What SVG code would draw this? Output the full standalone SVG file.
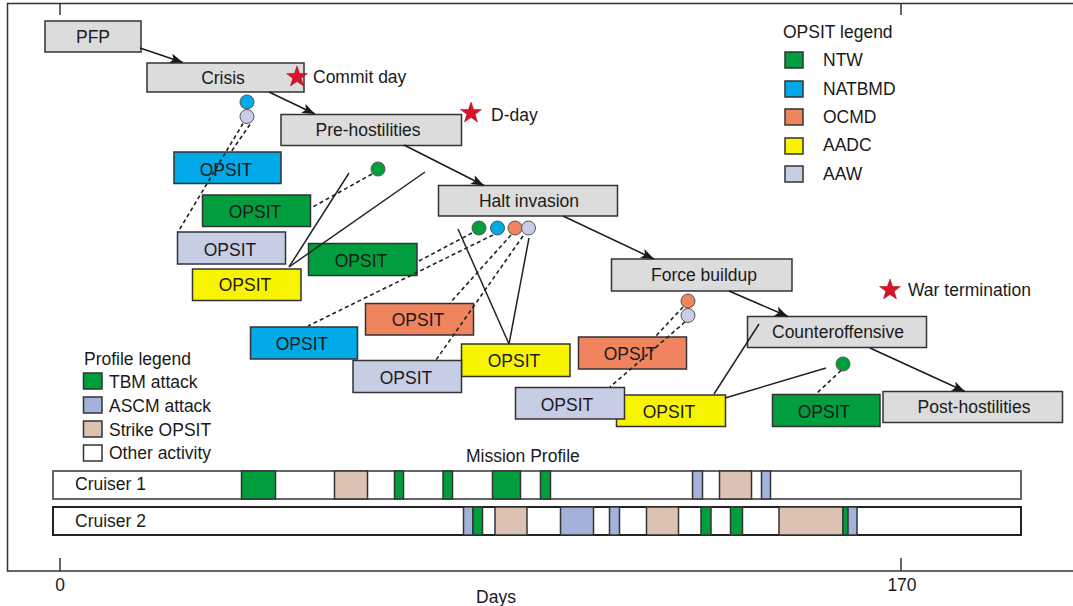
<svg xmlns="http://www.w3.org/2000/svg" width="1073" height="606" viewBox="0 0 1073 606">
<style>
text{font-family:"Liberation Sans",Arial,sans-serif;font-size:17.5px;fill:#1a1a1a}
.c{text-anchor:middle}
.ph{fill:#dcdcdc;stroke:#333;stroke-width:1.5}
.op{stroke:#333;stroke-width:1.5}
.g{fill:#009e3d}.b{fill:#00a9e8}.o{fill:#ef845f}.y{fill:#f8f400}.l{fill:#c8cde6}.pl{fill:#a4b1da}.t{fill:#dcc2b2}.w{fill:#fff}
.dot{stroke:#555;stroke-width:1}
.seg{stroke:#333;stroke-width:1.5}
.arr{stroke:#1a1a1a;stroke-width:1.5;fill:none;marker-end:url(#ah)}
.dash{stroke:#222;stroke-width:1.6;stroke-dasharray:4 3;fill:none}
.sol{stroke:#222;stroke-width:1.5;fill:none}
.star{fill:#d8142a;stroke:#a00;stroke-width:0.5}
</style>
<defs>
<marker id="ah" markerWidth="14" markerHeight="10" refX="13" refY="5" orient="auto" markerUnits="userSpaceOnUse">
<path d="M0,0 L13,5 L0,10 L3,5 z" fill="#1a1a1a"/>
</marker>
<path id="st" d="M0,-11 L2.59,-3.56 L10.46,-3.4 L4.18,1.36 L6.47,8.9 L0,4.4 L-6.47,8.9 L-4.18,1.36 L-10.46,-3.4 L-2.59,-3.56 z"/>
</defs>
<rect width="1073" height="606" fill="#fff"/>
<g id="frame" stroke="#333" stroke-width="1.5" fill="none">
<path d="M1073,3.5 H7.5 V571 H1073"/>
<path d="M60,3.5 V15 M901,3.5 V15 M60,558 V571 M901,558 V571"/>
</g>
<text x="60" y="591" class="c">0</text>
<text x="902" y="591" class="c">170</text>
<text x="496" y="603" class="c">Days</text>

<g id="opsit-legend">
<text x="783" y="38">OPSIT legend</text>
<rect x="785" y="52" width="18" height="16" class="op g"/><text x="823" y="66">NTW</text>
<rect x="785" y="81" width="18" height="16" class="op b"/><text x="823" y="95">NATBMD</text>
<rect x="785" y="109" width="18" height="16" class="op o"/><text x="823" y="123">OCMD</text>
<rect x="785" y="138" width="18" height="16" class="op y"/><text x="823" y="151">AADC</text>
<rect x="785" y="166" width="18" height="16" class="op l"/><text x="823" y="180">AAW</text>
</g>
<g id="profile-legend">
<text x="84" y="365">Profile legend</text>
<rect x="83.5" y="373" width="18.5" height="16" class="op g"/><text x="109" y="388">TBM attack</text>
<rect x="83.5" y="397" width="18.5" height="16" class="op pl"/><text x="109" y="412">ASCM attack</text>
<rect x="83.5" y="421" width="18.5" height="16" class="op t"/><text x="109" y="436">Strike OPSIT</text>
<rect x="83.5" y="445" width="18.5" height="16" class="op w"/><text x="109" y="459">Other activity</text>
</g>

<g id="mission-profile">
<text x="466" y="462">Mission Profile</text>
<g id="cruiser1">
<rect x="53" y="471" width="968" height="28" fill="#fff" stroke="#666" stroke-width="2"/>
<text x="75" y="490">Cruiser 1</text>
<rect x="241.5" y="471" width="34" height="28" class="seg g"/>
<rect x="334.5" y="471" width="33" height="28" class="seg t"/>
<rect x="394.5" y="471" width="9" height="28" class="seg g"/>
<rect x="443" y="471" width="9.5" height="28" class="seg g"/>
<rect x="492.5" y="471" width="28" height="28" class="seg g"/>
<rect x="540.5" y="471" width="10" height="28" class="seg g"/>
<rect x="692.5" y="471" width="10" height="28" class="seg pl"/>
<rect x="719.5" y="471" width="32" height="28" class="seg t"/>
<rect x="761.5" y="471" width="9" height="28" class="seg pl"/>
</g>
<g id="cruiser2">
<rect x="53" y="507" width="968" height="28" fill="#fff" stroke="#222" stroke-width="2"/>
<text x="75" y="527">Cruiser 2</text>
<rect x="463.5" y="507" width="9.5" height="28" class="seg pl"/>
<rect x="473" y="507" width="9.5" height="28" class="seg g"/>
<rect x="495" y="507" width="32" height="28" class="seg t"/>
<rect x="560.5" y="507" width="33" height="28" class="seg pl"/>
<rect x="609.5" y="507" width="10" height="28" class="seg pl"/>
<rect x="646.5" y="507" width="32" height="28" class="seg t"/>
<rect x="701" y="507" width="10" height="28" class="seg g"/>
<rect x="730.5" y="507" width="12" height="28" class="seg g"/>
<rect x="779" y="507" width="64" height="28" class="seg t"/>
<rect x="843" y="507" width="5" height="28" class="seg g"/>
<rect x="848" y="507" width="9" height="28" class="seg pl"/>
</g>
</g>

<g id="pfp"><rect x="45" y="21" width="96" height="31" class="ph"/><text x="93" y="43" class="c">PFP</text></g>
<g id="crisis"><rect x="147" y="63" width="157" height="29" class="ph"/><text x="223" y="84" class="c">Crisis</text></g>
<g id="commit-day"><use href="#st" x="297" y="77" class="star"/><text x="313" y="83">Commit day</text></g>
<g id="pre-hostilities"><rect x="281" y="114.5" width="180.5" height="31" class="ph"/><text x="368" y="136" class="c">Pre-hostilities</text></g>
<g id="d-day"><use href="#st" x="471" y="113" class="star"/><text x="491" y="121">D-day</text></g>
<g id="halt-invasion"><rect x="438.5" y="185.5" width="179" height="30.5" class="ph"/><text x="529" y="207" class="c">Halt invasion</text></g>
<g id="force-buildup"><rect x="611.5" y="259" width="180.5" height="32" class="ph"/><text x="704" y="281" class="c">Force buildup</text></g>
<g id="war-termination"><use href="#st" x="890" y="290" class="star"/><text x="908" y="296">War termination</text></g>
<g id="counteroffensive"><rect x="747.5" y="316.5" width="179" height="31" class="ph"/><text x="838" y="338" class="c">Counteroffensive</text></g>
<g id="post-hostilities"><rect x="883" y="391.5" width="179.5" height="31" class="ph"/><text x="974" y="413" class="c">Post-hostilities</text></g>

<g id="opsit-natbmd-1"><rect x="174" y="152" width="107" height="31.5" class="op b"/><text x="226" y="175.5" class="c">OPSIT</text></g>
<g id="opsit-ntw-1"><rect x="202.5" y="195" width="108" height="31.5" class="op g"/><text x="255" y="218" class="c">OPSIT</text></g>
<g id="opsit-aaw-1"><rect x="177.5" y="232" width="108" height="32" class="op l"/><text x="230" y="255.5" class="c">OPSIT</text></g>
<g id="opsit-aadc-1"><rect x="192.5" y="269" width="108.5" height="31.5" class="op y"/><text x="245" y="291" class="c">OPSIT</text></g>
<g id="opsit-ntw-2"><rect x="308.5" y="243.5" width="108.5" height="32" class="op g"/><text x="361" y="267" class="c">OPSIT</text></g>
<g id="opsit-ocmd-1"><rect x="365.5" y="303.5" width="108" height="31.5" class="op o"/><text x="418" y="326" class="c">OPSIT</text></g>
<g id="opsit-natbmd-2"><rect x="250.5" y="327" width="107" height="32" class="op b"/><text x="302" y="350" class="c">OPSIT</text></g>
<g id="opsit-aadc-2"><rect x="461.5" y="344" width="108.5" height="32.5" class="op y"/><text x="514" y="367" class="c">OPSIT</text></g>
<g id="opsit-aaw-2"><rect x="353" y="360.5" width="108.5" height="32" class="op l"/><text x="406" y="384" class="c">OPSIT</text></g>
<g id="opsit-ocmd-2"><rect x="578.5" y="337" width="108" height="32" class="op o"/><text x="630" y="360" class="c">OPSIT</text></g>
<g id="opsit-aadc-3"><rect x="616.5" y="395" width="109" height="31.5" class="op y"/><text x="669" y="418" class="c">OPSIT</text></g>
<g id="opsit-aaw-3"><rect x="515.5" y="387.5" width="109" height="31.5" class="op l"/><text x="567" y="411" class="c">OPSIT</text></g>
<g id="opsit-ntw-3"><rect x="772.5" y="394.5" width="107.5" height="32" class="op g"/><text x="824" y="418" class="c">OPSIT</text></g>

<g id="markers">
<circle cx="247" cy="102" r="7" class="dot b"/>
<circle cx="247" cy="116.5" r="7" class="dot l"/>
<circle cx="378" cy="169" r="7" class="dot g"/>
<circle cx="479" cy="228" r="7" class="dot g"/>
<circle cx="497.5" cy="228" r="7" class="dot b"/>
<circle cx="515" cy="228" r="7" class="dot o"/>
<circle cx="528.5" cy="228" r="7" class="dot l"/>
<circle cx="688" cy="301" r="7" class="dot o"/>
<circle cx="688" cy="315.5" r="7" class="dot l"/>
<circle cx="843" cy="364" r="7" class="dot g"/>
</g>

<g id="connectors">
<line x1="140" y1="48" x2="183" y2="62.5" class="arr"/>
<line x1="269" y1="92" x2="315" y2="114" class="arr"/>
<line x1="404" y1="145" x2="484" y2="185.5" class="arr"/>
<line x1="563" y1="216" x2="654" y2="259" class="arr"/>
<line x1="729" y1="291" x2="788" y2="316.5" class="arr"/>
<line x1="870" y1="348" x2="965" y2="391.5" class="arr"/>

<line x1="243" y1="123.5" x2="178" y2="232" class="dash"/>
<line x1="250" y1="124.5" x2="231" y2="152" class="dash"/>
<line x1="372" y1="174" x2="311" y2="208" class="dash"/>
<line x1="472" y1="233" x2="417" y2="262" class="dash"/>
<line x1="493" y1="235" x2="308" y2="326" class="dash"/>
<line x1="511" y1="235" x2="450" y2="303" class="dash"/>
<line x1="523" y1="236" x2="436" y2="360" class="dash"/>
<line x1="683" y1="307" x2="655" y2="337" class="dash"/>
<line x1="685" y1="322" x2="610" y2="387" class="dash"/>
<line x1="841" y1="370.5" x2="816" y2="394" class="dash"/>

<line x1="349" y1="173" x2="289" y2="267" class="sol"/>
<line x1="425" y1="172" x2="289" y2="267" class="sol"/>
<line x1="458" y1="229" x2="509" y2="344" class="sol"/>
<line x1="529" y1="238" x2="509" y2="344" class="sol"/>
<line x1="714" y1="394" x2="759" y2="324" class="sol"/>
<line x1="725" y1="398" x2="826" y2="368" class="sol"/>
</g>
</svg>
